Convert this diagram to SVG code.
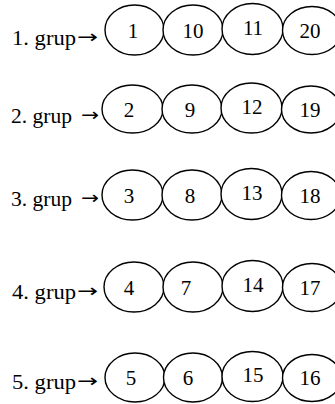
<svg xmlns="http://www.w3.org/2000/svg" width="335" height="404" viewBox="0 0 335 404">
<style>
.bg{fill:#fff}
ellipse{fill:#fff;stroke:#000;stroke-width:1.4}
.lbl{font-family:"Liberation Serif","Times New Roman",serif;font-size:21px;fill:#000}
.arr{font-family:"DejaVu Sans",sans-serif;font-size:18px;fill:#000}
.num{font-family:"Liberation Serif","Times New Roman",serif;font-size:21px;fill:#000;text-anchor:middle}
</style>
<rect class="bg" width="335" height="404"/>
<g id="connectors"></g>
<g id="group1">
<text class="lbl" x="12" y="45" textLength="64" lengthAdjust="spacingAndGlyphs">1. grup</text>
<text class="arr" x="77" y="43" textLength="21" lengthAdjust="spacingAndGlyphs">→</text>
<ellipse cx="134.5" cy="30" rx="29.5" ry="25"/>
<ellipse cx="193" cy="30" rx="30" ry="25"/>
<ellipse cx="252.5" cy="29" rx="30.5" ry="25.5"/>
<ellipse cx="312" cy="30.5" rx="29.5" ry="24"/>
<text class="num" x="133" y="38">1</text>
<text class="num" x="193" y="38">10</text>
<text class="num" x="253" y="35">11</text>
<text class="num" x="310" y="38">20</text>
</g>
<g id="group2">
<text class="lbl" x="11" y="123" textLength="61" lengthAdjust="spacingAndGlyphs">2. grup</text>
<text class="arr" x="81" y="121" textLength="18" lengthAdjust="spacingAndGlyphs">→</text>
<ellipse cx="132.5" cy="109" rx="30.5" ry="24"/>
<ellipse cx="192" cy="109" rx="30" ry="24"/>
<ellipse cx="251.5" cy="108" rx="30.5" ry="25"/>
<ellipse cx="311" cy="109.5" rx="29.5" ry="23.5"/>
<text class="num" x="129" y="117">2</text>
<text class="num" x="190" y="117">9</text>
<text class="num" x="252" y="114">12</text>
<text class="num" x="310" y="117">19</text>
</g>
<g id="group3">
<text class="lbl" x="11" y="206" textLength="61" lengthAdjust="spacingAndGlyphs">3. grup</text>
<text class="arr" x="81" y="204" textLength="18" lengthAdjust="spacingAndGlyphs">→</text>
<ellipse cx="132.5" cy="195" rx="30.5" ry="25"/>
<ellipse cx="192" cy="195" rx="30" ry="25"/>
<ellipse cx="251.5" cy="194" rx="30.5" ry="25.5"/>
<ellipse cx="311" cy="195.5" rx="29.5" ry="24"/>
<text class="num" x="129" y="203">3</text>
<text class="num" x="190" y="203">8</text>
<text class="num" x="252" y="200">13</text>
<text class="num" x="310" y="203">18</text>
</g>
<g id="group4">
<text class="lbl" x="12" y="299" textLength="64" lengthAdjust="spacingAndGlyphs">4. grup</text>
<text class="arr" x="77" y="297" textLength="21" lengthAdjust="spacingAndGlyphs">→</text>
<ellipse cx="134" cy="287" rx="30" ry="25"/>
<ellipse cx="193" cy="287" rx="30" ry="25"/>
<ellipse cx="252.5" cy="286" rx="30.5" ry="25.5"/>
<ellipse cx="312" cy="287.5" rx="29.5" ry="24"/>
<text class="num" x="129" y="295">4</text>
<text class="num" x="186" y="295">7</text>
<text class="num" x="253" y="292">14</text>
<text class="num" x="310" y="295">17</text>
</g>
<g id="group5">
<text class="lbl" x="12" y="389" textLength="64" lengthAdjust="spacingAndGlyphs">5. grup</text>
<text class="arr" x="77" y="387" textLength="21" lengthAdjust="spacingAndGlyphs">→</text>
<ellipse cx="135" cy="377.5" rx="30" ry="24.5"/>
<ellipse cx="193" cy="377.5" rx="29.5" ry="24.5"/>
<ellipse cx="252.5" cy="376.5" rx="30.5" ry="25"/>
<ellipse cx="312" cy="378" rx="29.5" ry="23.5"/>
<text class="num" x="131" y="385">5</text>
<text class="num" x="188" y="385">6</text>
<text class="num" x="253" y="382">15</text>
<text class="num" x="310" y="385">16</text>
</g>
</svg>
